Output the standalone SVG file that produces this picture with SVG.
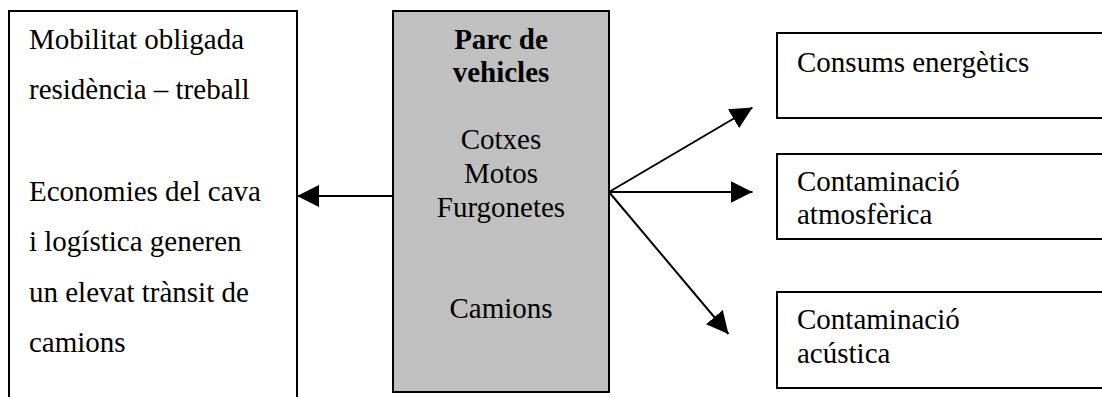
<svg xmlns="http://www.w3.org/2000/svg" width="1102" height="397" viewBox="0 0 1102 397">
<style>
.box{fill:#ffffff;stroke:#000000;stroke-width:2}
.grey{fill:#c0c0c0;stroke:#000000;stroke-width:2}
text{font-family:"Liberation Serif","Times New Roman",serif;font-size:29px;fill:#000000}
.c{text-anchor:middle}
.b{font-weight:bold}
.conn{stroke:#000000;stroke-width:2;fill:none;marker-end:url(#arr)}
</style>
<defs>
<marker id="arr" markerUnits="userSpaceOnUse" markerWidth="22" markerHeight="22" viewBox="0 0 20 20" refX="20" refY="10" orient="auto">
<path d="M0,0 L20,10 L0,20 z" fill="#000000"/>
</marker>
</defs>
<rect width="1102" height="397" fill="#ffffff"/>
<g id="node-left">
<rect class="box" x="9" y="11" width="288" height="400"/>
<text x="29" y="49">Mobilitat obligada</text>
<text x="29" y="99">residència – treball</text>
<text x="29" y="201">Economies del cava</text>
<text x="29" y="251">i logística generen</text>
<text x="29" y="302">un elevat trànsit de</text>
<text x="29" y="352">camions</text>
</g>
<g id="node-center">
<rect class="grey" x="393" y="11" width="216" height="381"/>
<text class="c b" x="501" y="49">Parc de</text>
<text class="c b" x="501" y="82">vehicles</text>
<text class="c" x="501" y="149">Cotxes</text>
<text class="c" x="501" y="183">Motos</text>
<text class="c" x="501" y="217">Furgonetes</text>
<text class="c" x="501" y="318">Camions</text>
</g>
<g id="node-energy">
<rect class="box" x="777" y="33" width="340" height="85"/>
<text x="797" y="72">Consums energètics</text>
</g>
<g id="node-atmos">
<rect class="box" x="777" y="154" width="340" height="85"/>
<text x="797" y="191">Contaminació</text>
<text x="797" y="224">atmosfèrica</text>
</g>
<g id="node-acoustic">
<rect class="box" x="777" y="292" width="340" height="96"/>
<text x="797" y="329">Contaminació</text>
<text x="797" y="363">acústica</text>
</g>
<g id="connectors">
<line class="conn" x1="393" y1="196" x2="297" y2="196"/>
<line class="conn" x1="609" y1="192" x2="752.5" y2="107.5"/>
<line class="conn" x1="609" y1="192" x2="752.5" y2="192"/>
<line class="conn" x1="609" y1="192" x2="728.5" y2="334"/>
</g>
</svg>
